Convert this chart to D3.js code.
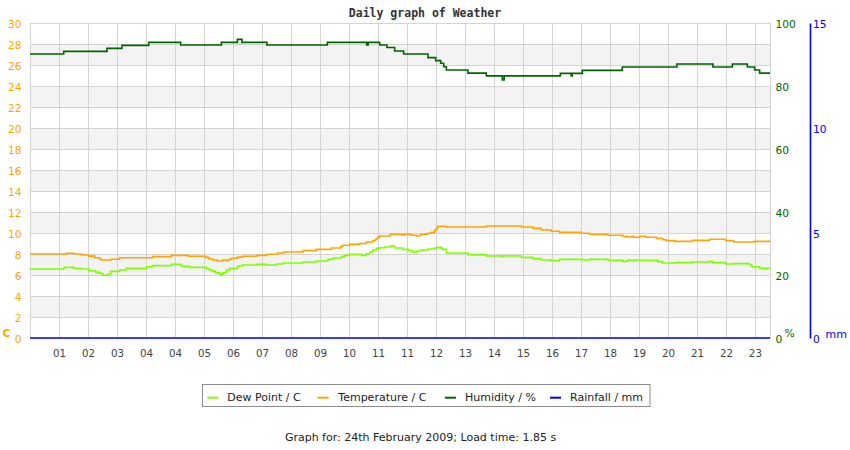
<!DOCTYPE html>
<html><head><meta charset="utf-8">
<script src="https://cdn.jsdelivr.net/npm/d3@7"></script>
<style>html,body{margin:0;padding:0;background:#fff;} svg{display:block;font-family:"DejaVu Sans",sans-serif;}</style>
</head><body><svg id="c" width="850" height="450"></svg>
<script>
// ---------- data ----------
const xTickLabels = ["01","02","03","04","04","05","06","07","08","09","10","11","11","12","13","14","15","16","17","18","19","20","21","22","23"];
const tempTicks = [0,2,4,6,8,10,12,14,16,18,20,22,24,26,28,30];
const humTicks = [0,20,40,60,80,100];
const rainTicks = [0,5,10,15];

const tempHours = [0,1.255,1.507,1.783,2.024,2.231,2.403,2.472,2.783,3.093,4.231,4.876,5.472,6.059,6.162,6.300,6.472,6.645,6.748,6.852,6.955,7.162,7.334,7.817,8.162,8.541,8.748,9.414,9.876,10.393,10.714,10.783,11.024,11.369,11.600,11.817,11.921,11.990,12.059,12.428,12.841,12.910,13.152,13.324,13.438,13.497,13.714,13.841,13.955,14.014,14.059,14.359,15.738,16.945,17.345,17.634,17.979,18.266,19.014,19.300,19.931,20.448,20.610,20.748,20.817,21.024,21.231,21.600,21.817,21.945,22.231,22.841,23.438,23.990,24.266,24.990];
const tempValues = [8.0,8.07,8.0,7.9,7.8,7.65,7.5,7.43,7.5,7.65,7.75,7.87,7.78,7.68,7.55,7.43,7.33,7.43,7.38,7.5,7.6,7.7,7.78,7.87,7.97,8.1,8.19,8.32,8.44,8.57,8.7,8.83,8.92,9.0,9.14,9.27,9.43,9.59,9.71,9.87,9.81,9.87,9.78,9.71,9.81,9.87,9.97,10.06,10.29,10.48,10.63,10.57,10.67,10.57,10.44,10.29,10.16,10.06,9.97,9.87,9.78,9.68,9.62,9.68,9.59,9.68,9.59,9.49,9.36,9.27,9.2,9.3,9.4,9.27,9.14,9.2];

const dewHours = [0,1.172,1.507,1.783,2.024,2.266,2.403,2.507,2.679,2.783,3.093,3.324,4.014,4.231,4.876,5.221,5.507,6.083,6.197,6.300,6.403,6.541,6.645,6.772,6.886,7.162,7.334,7.807,8.152,8.497,8.724,9.414,9.876,10.276,10.448,10.738,10.852,11.024,11.428,11.600,11.714,11.817,11.945,12.059,12.231,12.428,12.576,12.862,13.034,13.207,13.324,13.497,13.724,13.955,14.069,14.186,14.231,14.359,15.103,15.738,16.255,16.300,16.945,17.345,17.634,17.979,18.266,19.048,19.300,19.931,20.448,20.610,20.714,20.817,21.024,21.655,21.817,22.231,22.841,23.438,23.541,23.990,24.241,24.817,24.886,25.162];
const dewValues = [6.57,6.73,6.63,6.57,6.41,6.25,6.16,5.97,6.1,6.35,6.48,6.63,6.79,6.89,7.02,6.83,6.73,6.6,6.45,6.35,6.2,6.06,6.2,6.48,6.63,6.86,6.95,7.02,6.95,7.05,7.14,7.24,7.33,7.49,7.62,7.75,7.87,7.97,7.87,8.03,8.19,8.38,8.54,8.6,8.67,8.76,8.57,8.44,8.32,8.16,8.29,8.38,8.48,8.57,8.63,8.54,8.44,8.1,7.94,7.81,7.75,7.81,7.68,7.56,7.43,7.37,7.49,7.43,7.49,7.4,7.3,7.43,7.33,7.43,7.4,7.27,7.14,7.18,7.24,7.3,7.18,7.05,7.08,6.98,6.79,6.63];

const humHours = [0,1.162,2.655,3.172,4.093,5.197,6.600,7.152,7.310,8.172,10.255,11.610,11.662,12.059,12.310,12.576,12.886,13.724,13.990,14.162,14.266,14.359,15.103,15.738,16.290,16.352,18.290,18.662,18.697,19.048,20.428,22.310,23.552,24.221,24.738,24.990,25.162];
const humValues = [90.16,91.0,91.96,92.9,93.86,93.0,93.86,94.8,93.86,93.0,93.86,93.0,93.86,93.0,92.2,91.1,90.16,89.0,88.05,87.2,86.1,85.1,84.1,83.2,81.9,83.2,84.0,83.2,84.0,84.97,86.03,86.98,86.03,86.98,86.03,85.1,84.1];

const rainHours = [0, 25.52];
const rainValues = [0, 0];

const legendLabels = ["Dew Point / C","Temperature / C","Humidity / %","Rainfall / mm"];
const seriesColors = ["#80ff00","#ffa500","#006400","#0000ff"];

// ---------- layout ----------
const svg = d3.select("#c");
const L = 30, R = 770, T = 23, B = 338, xEnd = 25.52;
const x = d3.scaleLinear().domain([0, xEnd]).range([L, R]);
const yT = d3.scaleLinear().domain([0, 30]).range([B, T]);
const yH = d3.scaleLinear().domain([0, 100]).range([B, T]);
const yR = d3.scaleLinear().domain([0, 15]).range([B, T]);
const crisp = v => Math.round(v) + 0.5;

// bands
const bands = svg.append("g");
tempTicks.slice(0, -1).forEach((v, i) => {
  if (i % 2 === 1) {
    bands.append("rect").attr("x", L).attr("width", R - L)
      .attr("y", yT(v + 2)).attr("height", yT(v) - yT(v + 2)).attr("fill", "#f3f3f3");
  }
});

// grid
const grid = svg.append("g").attr("stroke", "#d4d4d4").attr("stroke-width", 1).attr("shape-rendering", "crispEdges");
tempTicks.forEach(v => grid.append("line").attr("x1", L).attr("x2", R + 0.5).attr("y1", crisp(yT(v))).attr("y2", crisp(yT(v))));
const vTicks = [0].concat(d3.range(1, xTickLabels.length + 1)).concat([xEnd]);
vTicks.forEach(h => grid.append("line").attr("x1", crisp(x(h))).attr("x2", crisp(x(h))).attr("y1", T).attr("y2", B));

// axes
const axL = svg.append("g").attr("transform", `translate(${L},0)`)
  .call(d3.axisLeft(yT).tickValues(tempTicks).tickSize(0).tickPadding(8.5));
axL.select(".domain").remove();
axL.selectAll("text").attr("fill", "#ffa500").attr("font-size", "10.7px").attr("font-family", "DejaVu Sans").attr("y", 1.5);

const axB = svg.append("g").attr("transform", `translate(0,${B})`)
  .call(d3.axisBottom(x).tickValues(d3.range(1, xTickLabels.length + 1)).tickFormat((d, i) => xTickLabels[i]).tickSize(0));
axB.select(".domain").remove();
axB.selectAll("text").attr("fill", "#444").attr("font-size", "10.3px").attr("font-family", "DejaVu Sans").attr("dy", null).attr("y", 18.5);

const axH = svg.append("g").attr("transform", `translate(${R},0)`)
  .call(d3.axisRight(yH).tickValues(humTicks).tickSize(0).tickPadding(5.5));
axH.select(".domain").remove();
axH.selectAll("text").attr("fill", "#006400").attr("font-size", "10.7px").attr("font-family", "DejaVu Sans").attr("y", 1.5);

const axR = svg.append("g").attr("transform", `translate(810,0)`)
  .call(d3.axisRight(yR).tickValues(rainTicks).tickSize(0).tickSizeOuter(0).tickPadding(3));
axR.select(".domain").attr("stroke", "#0000ff").attr("stroke-width", 1.6);
axR.selectAll("text").attr("fill", "#0000ff").attr("font-size", "10.7px").attr("font-family", "DejaVu Sans").attr("y", 1.5);

// unit labels
svg.append("text").attr("x", 2.5).attr("y", 336.7).attr("fill", "#ffa500").attr("font-size", "10.7px").attr("font-weight", "bold").text("C");
svg.append("text").attr("x", 784.5).attr("y", 337.3).attr("fill", "#006400").attr("font-size", "10.7px").text("%");
svg.append("text").attr("x", 825.5).attr("y", 337.5).attr("fill", "#0000ff").attr("font-size", "11px").text("mm");

// series
function build(hours, values) {
  const d = hours.map((h, i) => [h, values[i]]);
  d.push([xEnd, values[values.length - 1]]);
  return d;
}
const series = [
  {d: build(dewHours, dewValues), y: yT, c: seriesColors[0]},
  {d: build(tempHours, tempValues), y: yT, c: seriesColors[1]},
  {d: build(humHours, humValues), y: yH, c: seriesColors[2]},
  {d: rainHours.map((h, i) => [h, rainValues[i]]), y: yR, c: seriesColors[3]}
];
series.forEach(s => {
  const line = d3.line().x(p => x(p[0])).y(p => s.y(p[1])).curve(d3.curveStepAfter);
  svg.append("path").datum(s.d).attr("d", line).attr("fill", "none")
    .attr("stroke", s.c).attr("stroke-width", 1.6);
});

// title
svg.append("text").attr("x", 425).attr("y", 16.8).attr("text-anchor", "middle")
  .attr("font-family", "DejaVu Sans Mono").attr("font-weight", "bold").attr("font-size", "11.5px")
  .attr("fill", "#333").text("Daily graph of Weather");

// legend
const lg = svg.append("g");
lg.append("rect").attr("x", 202.5).attr("y", 384.5).attr("width", 447.5).attr("height", 22)
  .attr("fill", "#fff").attr("stroke", "#8c8c8c").attr("stroke-width", 1);
const swX = [207.3, 317.7, 445, 550];
const txX = [227.3, 338.3, 465, 570];
legendLabels.forEach((t, i) => {
  lg.append("line").attr("x1", swX[i]).attr("x2", swX[i] + 11).attr("y1", 397.7).attr("y2", 397.7)
    .attr("stroke", seriesColors[i]).attr("stroke-width", 2);
  lg.append("text").attr("x", txX[i]).attr("y", 400.8).attr("font-size", "11px").attr("fill", "#222").text(t);
});

// footer
svg.append("text").attr("x", 420.5).attr("y", 440.5).attr("text-anchor", "middle")
  .attr("font-size", "11px").attr("fill", "#222").text("Graph for: 24th February 2009; Load time: 1.85 s");
</script>
</body></html>
